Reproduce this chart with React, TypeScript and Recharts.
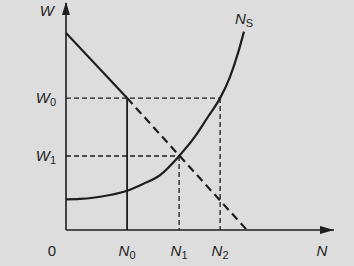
import {
  ComposedChart,
  Line,
  ReferenceDot,
  ReferenceLine,
  XAxis,
  YAxis,
} from "recharts";

// equilibrium levels (axis units 0..10)
const W0 = 5.81;
const W1 = 3.26;
const N0 = 2.28;
const N1 = 4.22;
const N2 = 5.75;

// labour supply curve N_S
const supplyN = [0, 0.52, 1.01, 1.64, 2.28, 2.87, 3.51, 4.22, 4.81, 5.3, 5.75, 6.12, 6.42, 6.64];
const supplyW = [1.35, 1.37, 1.42, 1.54, 1.73, 2.03, 2.42, 3.26, 4.11, 4.99, 5.81, 6.75, 7.8, 8.74];

// demand line: solid part, then dashed part
const demandSolidN = [0, N0];
const demandSolidW = [8.68, W0];
const demandDashN = [N0, 6.75];
const demandDashW = [W0, 0];

const xTicks = [0, N0, N1, N2, 9.55];
const xTickLabels = ["0", "N|0", "N|1", "N|2", "N"];
const yTicks = [W1, W0, 9.65];
const yTickLabels = ["W|1", "W|0", "W"];

const zip = (xs: number[], ys: number[]) => xs.map((x, i) => ({ x, y: ys[i] }));
const supply = zip(supplyN, supplyW);
const demandSolid = zip(demandSolidN, demandSolidW);
const demandDash = zip(demandDashN, demandDashW);

const INK = "#1e1e1e";
const FONT = "'Liberation Sans', Arial, sans-serif";

function SubLabel({ x, y, text, anchor }: { x: number; y: number; text: string; anchor: "start" | "middle" | "end" }) {
  const [main, sub] = text.split("|");
  const italic = main !== "0";
  return (
    <text x={x} y={y} textAnchor={anchor} fill={INK} fontFamily={FONT} fontSize={15}>
      <tspan fontStyle={italic ? "italic" : "normal"}>{main}</tspan>
      {sub && (
        <tspan fontSize={11} dy={3}>
          {sub}
        </tspan>
      )}
    </text>
  );
}

function XTick(props: any) {
  const i = xTicks.indexOf(props.payload.value);
  const label = xTickLabels[i] ?? "";
  let x = props.x;
  if (label === "0") x -= 14;
  return <SubLabel x={x} y={props.y + 26} text={label} anchor="middle" />;
}

function YTick(props: any) {
  const i = yTicks.indexOf(props.payload.value);
  const label = yTickLabels[i] ?? "";
  const dx = label === "W" ? -12 : -10;
  return <SubLabel x={props.x + dx} y={props.y + 5} text={label} anchor="end" />;
}

export default function App() {
  return (
    <div
      style={{
        position: "absolute",
        left: 0,
        top: 0,
        width: 354,
        height: 266,
        background: "#dddddd",
      }}
    >
      <ComposedChart width={354} height={266} margin={{ top: 3, right: 20, left: 0, bottom: 0 }}>
        <XAxis
          type="number"
          dataKey="x"
          domain={[0, 10]}
          ticks={xTicks}
          tick={<XTick />}
          tickLine={false}
          tickSize={0}
          tickMargin={0}
          height={36}
          axisLine={{ stroke: INK, strokeWidth: 1.6 }}
          allowDataOverflow
        />
        <YAxis
          type="number"
          dataKey="y"
          domain={[0, 10]}
          ticks={yTicks}
          tick={<YTick />}
          tickLine={false}
          tickSize={0}
          tickMargin={0}
          width={66}
          axisLine={{ stroke: INK, strokeWidth: 1.6 }}
          allowDataOverflow
        />
        <ReferenceLine segment={[{ x: 0, y: W0 }, { x: N2, y: W0 }]} stroke={INK} strokeWidth={1.3} strokeDasharray="5 3" />
        <ReferenceLine segment={[{ x: N2, y: W0 }, { x: N2, y: 0 }]} stroke={INK} strokeWidth={1.3} strokeDasharray="5 3" />
        <ReferenceLine segment={[{ x: 0, y: W1 }, { x: N1, y: W1 }]} stroke={INK} strokeWidth={1.3} strokeDasharray="5 3" />
        <ReferenceLine segment={[{ x: N1, y: W1 }, { x: N1, y: 0 }]} stroke={INK} strokeWidth={1.3} strokeDasharray="5 3" />
        <ReferenceLine segment={[{ x: N0, y: W0 }, { x: N0, y: 0 }]} stroke={INK} strokeWidth={1.8} />
        <Line data={demandSolid} dataKey="y" type="linear" stroke={INK} strokeWidth={2.2} dot={false} isAnimationActive={false} />
        <Line data={demandDash} dataKey="y" type="linear" stroke={INK} strokeWidth={2.2} strokeDasharray="8 5" dot={false} isAnimationActive={false} />
        <Line data={supply} dataKey="y" type="monotone" stroke={INK} strokeWidth={2.2} dot={false} isAnimationActive={false} />
        <ReferenceDot
          x={0}
          y={10}
          r={0}
          shape={(p: any) => (
            <polygon points={`${p.cx},${p.cy - 1} ${p.cx - 4},${p.cy + 12} ${p.cx + 4},${p.cy + 12}`} fill={INK} />
          )}
        />
        <ReferenceDot
          x={10}
          y={0}
          r={0}
          shape={(p: any) => (
            <polygon points={`${p.cx},${p.cy} ${p.cx - 14},${p.cy - 4} ${p.cx - 14},${p.cy + 4}`} fill={INK} />
          )}
        />
        <ReferenceDot
          x={supplyN[supplyN.length - 1]}
          y={supplyW[supplyW.length - 1]}
          r={0}
          shape={(p: any) => <SubLabel x={p.cx - 9} y={p.cy - 8} text="N|S" anchor="start" />}
        />
      </ComposedChart>
    </div>
  );
}
